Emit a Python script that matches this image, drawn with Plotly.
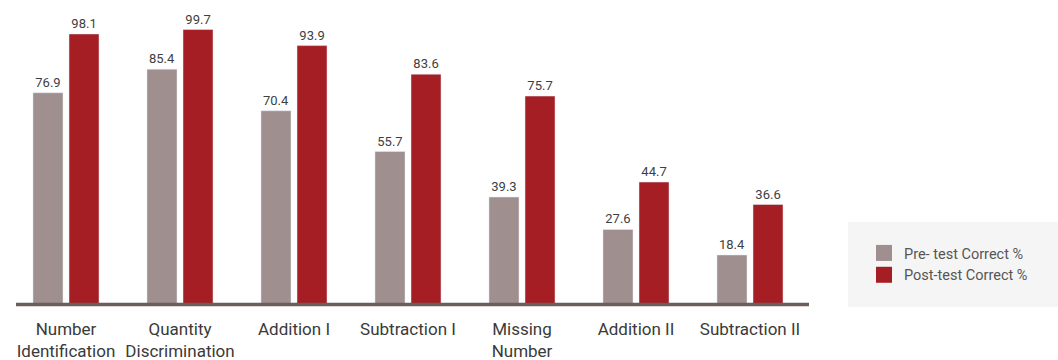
import plotly.graph_objects as go

categories = ["Number<br>Identification", "Quantity<br>Discrimination", "Addition I",
              "Subtraction I", "Missing<br>Number", "Addition II", "Subtraction II"]
pre_values = [76.9, 85.4, 70.4, 55.7, 39.3, 27.6, 18.4]
post_values = [98.1, 99.7, 93.9, 83.6, 75.7, 44.7, 36.6]
series_names = ["Pre- test Correct %", "Post-test Correct %"]

PRE_COLOR = "#9f8f8e"
POST_COLOR = "#a51e24"
FONT = "Roboto"

W, H = 1058, 360
L, R, T, B = 9, 251, 0, 54
plot_w = W - L - R
plot_h = H - T - B
px_per_unit = 2.773
y_max = plot_h / px_per_unit

fig = go.Figure()
for name, vals, col in [(series_names[0], pre_values, PRE_COLOR),
                        (series_names[1], post_values, POST_COLOR)]:
    fig.add_trace(go.Bar(
        x=categories, y=vals, name=name, marker_color=col, showlegend=False,
        text=[f"{v:.1f}" for v in vals], textposition="outside",
        textfont=dict(family=FONT, size=13, color="#404040"),
        cliponaxis=False,
    ))
    fig.add_trace(go.Scatter(
        x=[None], y=[None], mode="markers", name=name,
        marker=dict(symbol="square", size=16, color=col),
    ))

def px_x(p):
    return (p - L) / plot_w

def px_y(p):
    return (H - B - p) / plot_h

# legend background
fig.add_shape(type="rect", xref="paper", yref="paper",
              x0=px_x(848), x1=px_x(1058), y0=px_y(307), y1=px_y(222),
              fillcolor="#f5f5f5", line_width=0, layer="below")
# axis base line
fig.add_shape(type="line", xref="paper", yref="paper",
              x0=px_x(16), x1=px_x(809), y0=px_y(304.4), y1=px_y(304.4),
              line=dict(color="#6b5d58", width=3.5), layer="above")

fig.update_layout(
    width=W, height=H,
    margin=dict(l=L, r=R, t=T, b=B),
    paper_bgcolor="white", plot_bgcolor="white",
    barmode="group", bargap=0.368, bargroupgap=0.1667,
    font=dict(family=FONT, color="#333333"),
    xaxis=dict(showgrid=False, showline=False, zeroline=False, ticks="",
               tickfont=dict(family=FONT, size=17, color="#3a3a3a"),
               ticklabelstandoff=11,
               fixedrange=True),
    yaxis=dict(range=[0, y_max], visible=False, fixedrange=True),
    legend=dict(x=px_x(864), y=px_y(237), xanchor="left", yanchor="top",
                bgcolor="rgba(0,0,0,0)", font=dict(family=FONT, size=14.5, color="#555555"),
                tracegroupgap=0),
    showlegend=True,
)

fig.write_html("out.html")
